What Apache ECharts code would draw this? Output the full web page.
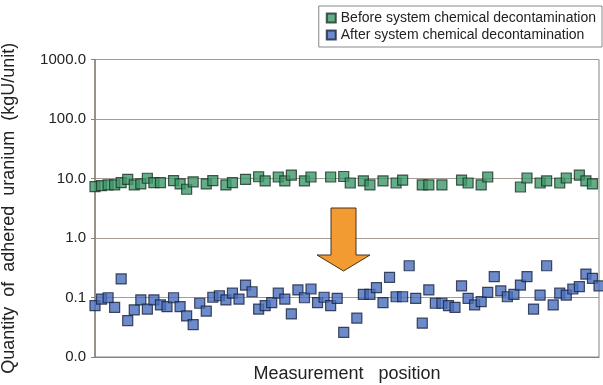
<!DOCTYPE html>
<html>
<head>
<meta charset="utf-8">
<script src="https://cdn.jsdelivr.net/npm/echarts@6/dist/echarts.min.js"></script>
<style>
  html, body { margin: 0; padding: 0; background: #fff; }
  #chart { width: 603px; height: 385px; }
</style>
</head>
<body>
<div id="chart"></div>
<script>
// measurement positions (78 slots along the x axis)
var positions = []
for (var i = 1; i <= 78; i++) positions.push(String(i))

// kgU/unit, null = no measurement at that position
var beforeValues = [
  7.3, 7.6, 7.8, 7.8, 8.5, 9.7, 7.8, 8.1, 10.1, 8.5,
  8.5, null, 9.2, 8.1, 6.6, 8.8, null, 8.1, 9.2, null,
  7.8, 8.5, null, 9.7, null, 10.7, 9.1, null, 10.6, 9.1,
  11.4, null, 9.1, 10.6, null, null, 10.6, null, 10.8, 8.4,
  null, 9.1, 7.8, null, 9.1, null, 8.4, 9.4, null, null,
  7.8, 7.8, null, 7.8, null, null, 9.4, 8.4, null, 7.8,
  10.6, null, null, null, null, 7.2, 10.2, null, 8.4, 9.1,
  null, 8.4, 10.2, null, 11.4, 9.1, 8.1, null
]

var afterValues = [
  0.073, 0.094, 0.099, 0.068, 0.205, 0.041, 0.062, 0.091, 0.064, 0.091,
  0.075, 0.070, 0.099, 0.070, 0.049, 0.035, 0.080, 0.059, 0.101, 0.107,
  0.091, 0.118, 0.094, 0.162, 0.125, 0.064, 0.073, 0.082, 0.118, 0.094,
  0.053, 0.134, 0.099, 0.139, 0.082, 0.101, 0.073, 0.097, 0.026, null,
  0.045, 0.113, 0.113, 0.146, 0.082, 0.218, 0.103, 0.103, 0.342, 0.097,
  0.037, 0.134, 0.080, 0.080, 0.073, 0.068, 0.157, 0.097, 0.075, 0.085,
  0.122, 0.224, 0.129, 0.103, 0.113, 0.162, 0.224, 0.064, 0.110, 0.342,
  0.075, 0.118, 0.110, 0.139, 0.152, 0.248, 0.210, 0.157
]

var yTicks = [0.01, 0.1, 1, 10, 100, 1000]

var font = 'Liberation Sans, Arial, sans-serif'
var chart = echarts.init(document.getElementById('chart'))

function toData(arr) {
  return arr.map(function (v) { return v == null ? '-' : v })
}

chart.setOption({
  animation: false,
  backgroundColor: '#fff',
  textStyle: { fontFamily: font },
  grid: {
    left: 95,
    right: 4,
    top: 59.5,
    bottom: 28,
    outerBoundsMode: 'none',
    containLabel: false,
    show: true,
    borderColor: '#8a827a',
    borderWidth: 1
  },
  legend: {
    orient: 'vertical',
    right: 1,
    top: 6,
    padding: [5, 6, 5, 7],
    itemGap: 3,
    itemWidth: 9,
    itemHeight: 9,
    borderColor: '#888',
    borderWidth: 1,
    textStyle: { fontSize: 14, color: '#222', fontFamily: font },
    data: [
      { name: 'Before system chemical decontamination', icon: 'rect' },
      { name: 'After system chemical decontamination', icon: 'rect' }
    ]
  },
  xAxis: {
    type: 'category',
    data: positions,
    boundaryGap: false,
    name: 'Measurement   position',
    nameLocation: 'middle',
    nameGap: 8,
    nameTextStyle: { fontSize: 18, color: '#222' },
    axisLine: { lineStyle: { color: '#8a827a' } },
    axisTick: { show: false },
    axisLabel: { show: false },
    splitLine: { show: false }
  },
  yAxis: {
    type: 'log',
    logBase: 10,
    min: yTicks[0],
    max: yTicks[yTicks.length - 1],
    name: 'Quantity  of  adhered  uranium  (kgU/unit)',
    nameLocation: 'middle',
    nameGap: 77,
    nameTextStyle: { fontSize: 18, color: '#222' },
    axisLine: { show: true, lineStyle: { color: '#8a827a', width: 1.5 } },
    axisTick: { show: true, length: 4, lineStyle: { color: '#8a827a' } },
    axisLabel: {
      fontSize: 15,
      color: '#222',
      margin: 9,
      formatter: function (v) { return v.toFixed(1) }
    },
    splitLine: { show: true, lineStyle: { color: '#a39b94', width: 1 } }
  },
  series: [
    {
      name: 'Before system chemical decontamination',
      type: 'scatter',
      symbol: 'rect',
      symbolSize: 10,
      itemStyle: { color: '#3d986a', borderColor: '#1b3226', borderWidth: 1.2 },
      data: toData(beforeValues)
    },
    {
      name: 'After system chemical decontamination',
      type: 'scatter',
      symbol: 'rect',
      symbolSize: 10,
      itemStyle: { color: '#486ebd', borderColor: '#18223c', borderWidth: 1.2 },
      data: toData(afterValues)
    }
  ],
  graphic: [
    {
      type: 'polygon',
      z: 100,
      shape: {
        points: [[331, 208], [356, 208], [356, 255], [370, 255], [343.5, 271], [317, 255], [331, 255]]
      },
      style: { fill: '#f39b33', stroke: '#4a3018', lineWidth: 1 }
    }
  ]
})
</script>
</body>
</html>
